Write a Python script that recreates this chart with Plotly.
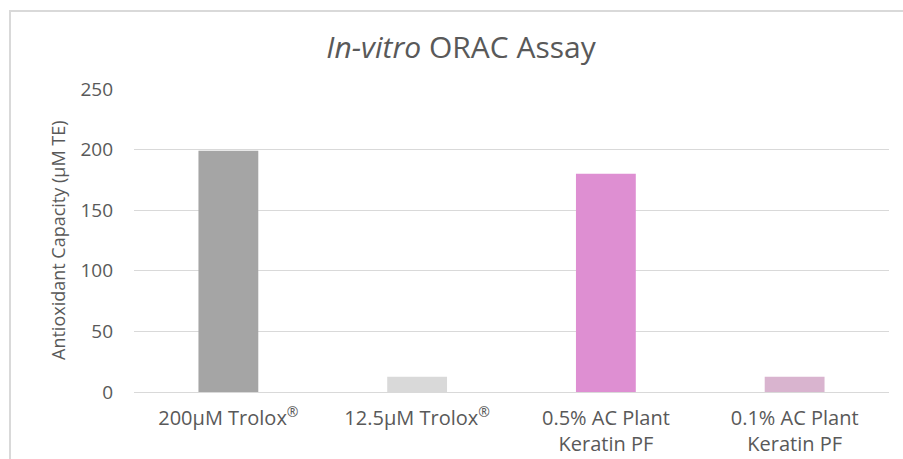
import plotly.graph_objects as go

categories = ["200µM Trolox<sup>®</sup>", "12.5µM Trolox<sup>®</sup>", "0.5% AC Plant<br>Keratin PF", "0.1% AC Plant<br>Keratin PF"]
values = [199, 12.5, 180, 12.5]
colors = ["#A5A5A5", "#D9D9D9", "#DE8FD2", "#D9B4CF"]
y_ticks = [0, 50, 100, 150, 200, 250]

FONT = "Open Sans"
TXT = "#595959"

L, R, T, B = 134, 889, 89, 392
W, H = 903, 459

fig = go.Figure(go.Bar(x=categories, y=values, marker=dict(color=colors, line=dict(width=0)), width=0.317))

def px2paper_x(px):
    return (px - L) / (R - L)

def px2paper_y(py):
    return (B - py) / (B - T)

fig.update_layout(
    width=W, height=H,
    margin=dict(l=L, r=W - R, t=T, b=H - B, pad=0, autoexpand=False),
    paper_bgcolor="white", plot_bgcolor="white",
    showlegend=False,
    font=dict(family=FONT, color=TXT, size=18),
    title=dict(text="<i>In-vitro</i> ORAC Assay", x=461 / W, xanchor="center", xref="container",
               y=1 - 47 / H, yanchor="middle",
               font=dict(family=FONT, size=30, color=TXT)),
    xaxis=dict(showgrid=False, showline=True, linecolor="#D9D9D9", linewidth=1, automargin=False,
               ticks="", ticklabelstandoff=8, tickfont=dict(size=20, color=TXT)),
    yaxis=dict(range=[0, 250], tickvals=y_ticks, showgrid=True, gridcolor="#D9D9D9", automargin=False,
               gridwidth=1, zeroline=False, showline=False, ticks="",
               ticklabelstandoff=20, tickfont=dict(size=19, color=TXT)),
    shapes=[dict(type="rect", xref="paper", yref="paper",
                 x0=px2paper_x(10), x1=px2paper_x(960),
                 y0=px2paper_y(520), y1=px2paper_y(11),
                 line=dict(color="#D9D9D9", width=2), fillcolor="rgba(0,0,0,0)", layer="below")],
    annotations=[dict(text="Antioxidant Capacity (µM TE)", textangle=-90,
                      xref="paper", yref="paper", x=px2paper_x(58), y=px2paper_y(241),
                      xanchor="center", yanchor="middle", showarrow=False,
                      font=dict(family=FONT, size=18, color=TXT))],
)

fig.write_html("out.html", config={"displayModeBar": False},
               post_script="document.body.style.margin='0';document.body.style.overflow='hidden';")
